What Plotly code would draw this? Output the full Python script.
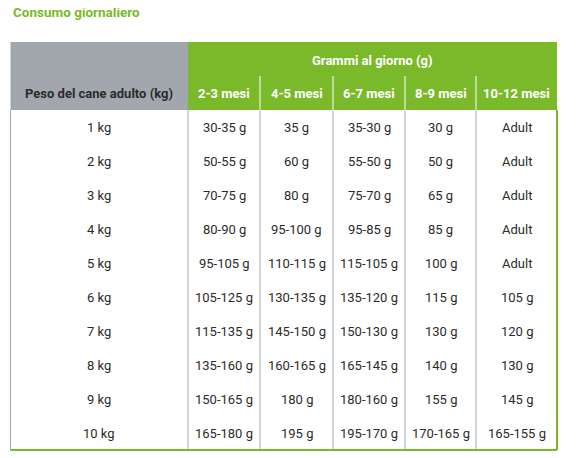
import plotly.graph_objects as go

GREEN = '#7AB929'
GREY_HDR = '#A1A7AD'
LINE = '#A3A8AD'
TXT = '#2B2B2B'
FONT = 'Roboto, sans-serif'

title = 'Consumo giornaliero'
group_label = 'Grammi al giorno (g)'
first_col = 'Peso del cane adulto (kg)'
months = ['2-3 mesi', '4-5 mesi', '6-7 mesi', '8-9 mesi', '10-12 mesi']
weights = ['1 kg', '2 kg', '3 kg', '4 kg', '5 kg', '6 kg', '7 kg', '8 kg', '9 kg', '10 kg']
grams = [
    ['30-35 g', '35 g', '35-30 g', '30 g', 'Adult'],
    ['50-55 g', '60 g', '55-50 g', '50 g', 'Adult'],
    ['70-75 g', '80 g', '75-70 g', '65 g', 'Adult'],
    ['80-90 g', '95-100 g', '95-85 g', '85 g', 'Adult'],
    ['95-105 g', '110-115 g', '115-105 g', '100 g', 'Adult'],
    ['105-125 g', '130-135 g', '135-120 g', '115 g', '105 g'],
    ['115-135 g', '145-150 g', '150-130 g', '130 g', '120 g'],
    ['135-160 g', '160-165 g', '165-145 g', '140 g', '130 g'],
    ['150-165 g', '180 g', '180-160 g', '155 g', '145 g'],
    ['165-180 g', '195 g', '195-170 g', '170-165 g', '165-155 g'],
]

# layout geometry (pixel-like coordinates)
col_x = [10.5, 188, 260, 333, 405, 476, 557]
top, mid, hdr_bot, row_h = 42, 76, 110, 34
bottom = hdr_bot + row_h * len(weights)
OFF = 8  # page body margin

fig = go.Figure()
shapes, ann = [], []

shapes.append(dict(type='rect', x0=col_x[0], x1=col_x[1], y0=top, y1=hdr_bot,
                   fillcolor=GREY_HDR, line_width=0, layer='below'))
shapes.append(dict(type='rect', x0=col_x[1], x1=col_x[-1], y0=top, y1=hdr_bot,
                   fillcolor=GREEN, line_width=0, layer='below'))
for x in col_x[2:-1]:
    shapes.append(dict(type='line', x0=x, x1=x, y0=mid, y1=hdr_bot,
                       line=dict(color='white', width=1)))
for x in col_x[:-1]:
    shapes.append(dict(type='line', x0=x, x1=x, y0=hdr_bot, y1=bottom,
                       line=dict(color=LINE, width=1)))
shapes.append(dict(type='line', x0=col_x[-1], x1=col_x[-1], y0=hdr_bot, y1=bottom,
                   line=dict(color=GREEN, width=2)))
shapes.append(dict(type='line', x0=col_x[0], x1=col_x[-1], y0=bottom, y1=bottom,
                   line=dict(color=GREEN, width=2)))

def cx(i):
    return (col_x[i] + col_x[i + 1]) / 2

ann.append(dict(x=col_x[0], y=12, text=f'<b>{title}</b>', xanchor='left',
                font=dict(size=13.5, color=GREEN)))
ann.append(dict(x=(col_x[1] + col_x[-1]) / 2, y=(top + mid) / 2 + 1,
                text=f'<b>{group_label}</b>', font=dict(size=13, color='white')))
ann.append(dict(x=cx(0), y=(mid + hdr_bot) / 2, text=f'<b>{first_col}</b>',
                font=dict(size=13, color=TXT)))
for j, m in enumerate(months):
    ann.append(dict(x=cx(j + 1), y=(mid + hdr_bot) / 2, text=f'<b>{m}</b>',
                    font=dict(size=13, color='white')))
for r, w in enumerate(weights):
    y = hdr_bot + row_h * (r + 0.5)
    ann.append(dict(x=cx(0), y=y, text=w, font=dict(size=13, color=TXT)))
    for j, g in enumerate(grams[r]):
        ann.append(dict(x=cx(j + 1), y=y, text=g, font=dict(size=13, color=TXT)))

for a in ann:
    a.update(showarrow=False, xref='x', yref='y', yanchor='middle')
    a.setdefault('xanchor', 'center')

fig.update_layout(
    width=580, height=458,
    margin=dict(l=0, r=0, t=0, b=0),
    paper_bgcolor='white', plot_bgcolor='white',
    xaxis=dict(visible=False, range=[OFF, 580 + OFF]),
    yaxis=dict(visible=False, range=[458 + OFF, OFF]),
    shapes=shapes, annotations=ann,
    font=dict(family=FONT),
    showlegend=False,
)
fig.write_html('out.html')
